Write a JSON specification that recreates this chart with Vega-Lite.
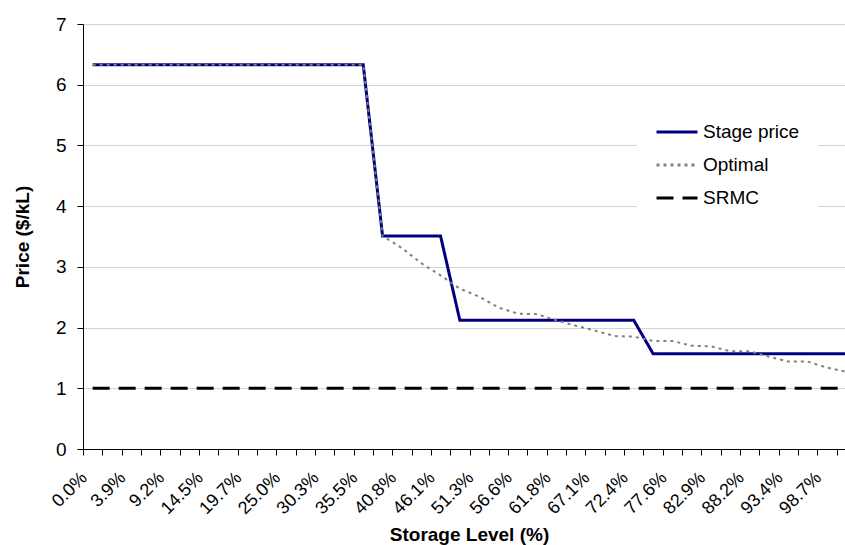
{
  "$schema": "https://vega.github.io/schema/vega-lite/v6.json",
  "width": 762,
  "height": 425,
  "autosize": {"type": "none"},
  "padding": {"left": 83, "top": 24, "right": 0, "bottom": 96},
  "background": "white",
  "config": {"font": "Liberation Sans", "view": {"stroke": null}},
  "data": {"values": [
    {"i": 0, "level": "0.0%", "Stage price": 6.33, "Optimal": 6.33, "SRMC": 1},
    {"i": 1, "level": "1.3%", "Stage price": 6.33, "Optimal": 6.33, "SRMC": 1},
    {"i": 2, "level": "3.9%", "Stage price": 6.33, "Optimal": 6.33, "SRMC": 1},
    {"i": 3, "level": "6.6%", "Stage price": 6.33, "Optimal": 6.33, "SRMC": 1},
    {"i": 4, "level": "9.2%", "Stage price": 6.33, "Optimal": 6.33, "SRMC": 1},
    {"i": 5, "level": "11.8%", "Stage price": 6.33, "Optimal": 6.33, "SRMC": 1},
    {"i": 6, "level": "14.5%", "Stage price": 6.33, "Optimal": 6.33, "SRMC": 1},
    {"i": 7, "level": "17.1%", "Stage price": 6.33, "Optimal": 6.33, "SRMC": 1},
    {"i": 8, "level": "19.7%", "Stage price": 6.33, "Optimal": 6.33, "SRMC": 1},
    {"i": 9, "level": "22.4%", "Stage price": 6.33, "Optimal": 6.33, "SRMC": 1},
    {"i": 10, "level": "25.0%", "Stage price": 6.33, "Optimal": 6.33, "SRMC": 1},
    {"i": 11, "level": "27.6%", "Stage price": 6.33, "Optimal": 6.33, "SRMC": 1},
    {"i": 12, "level": "30.3%", "Stage price": 6.33, "Optimal": 6.33, "SRMC": 1},
    {"i": 13, "level": "32.9%", "Stage price": 6.33, "Optimal": 6.33, "SRMC": 1},
    {"i": 14, "level": "35.5%", "Stage price": 6.33, "Optimal": 6.33, "SRMC": 1},
    {"i": 15, "level": "38.2%", "Stage price": 3.51, "Optimal": 3.51, "SRMC": 1},
    {"i": 16, "level": "40.8%", "Stage price": 3.51, "Optimal": 3.31, "SRMC": 1},
    {"i": 17, "level": "43.4%", "Stage price": 3.51, "Optimal": 3.06, "SRMC": 1},
    {"i": 18, "level": "46.1%", "Stage price": 3.51, "Optimal": 2.86, "SRMC": 1},
    {"i": 19, "level": "48.7%", "Stage price": 2.12, "Optimal": 2.64, "SRMC": 1},
    {"i": 20, "level": "51.3%", "Stage price": 2.12, "Optimal": 2.51, "SRMC": 1},
    {"i": 21, "level": "53.9%", "Stage price": 2.12, "Optimal": 2.33, "SRMC": 1},
    {"i": 22, "level": "56.6%", "Stage price": 2.12, "Optimal": 2.23, "SRMC": 1},
    {"i": 23, "level": "59.2%", "Stage price": 2.12, "Optimal": 2.22, "SRMC": 1},
    {"i": 24, "level": "61.8%", "Stage price": 2.12, "Optimal": 2.12, "SRMC": 1},
    {"i": 25, "level": "64.5%", "Stage price": 2.12, "Optimal": 2.03, "SRMC": 1},
    {"i": 26, "level": "67.1%", "Stage price": 2.12, "Optimal": 1.95, "SRMC": 1},
    {"i": 27, "level": "69.7%", "Stage price": 2.12, "Optimal": 1.86, "SRMC": 1},
    {"i": 28, "level": "72.4%", "Stage price": 2.12, "Optimal": 1.85, "SRMC": 1},
    {"i": 29, "level": "75.0%", "Stage price": 1.57, "Optimal": 1.78, "SRMC": 1},
    {"i": 30, "level": "77.6%", "Stage price": 1.57, "Optimal": 1.78, "SRMC": 1},
    {"i": 31, "level": "80.3%", "Stage price": 1.57, "Optimal": 1.70, "SRMC": 1},
    {"i": 32, "level": "82.9%", "Stage price": 1.57, "Optimal": 1.69, "SRMC": 1},
    {"i": 33, "level": "85.5%", "Stage price": 1.57, "Optimal": 1.61, "SRMC": 1},
    {"i": 34, "level": "88.2%", "Stage price": 1.57, "Optimal": 1.61, "SRMC": 1},
    {"i": 35, "level": "90.8%", "Stage price": 1.57, "Optimal": 1.52, "SRMC": 1},
    {"i": 36, "level": "93.4%", "Stage price": 1.57, "Optimal": 1.44, "SRMC": 1},
    {"i": 37, "level": "96.1%", "Stage price": 1.57, "Optimal": 1.44, "SRMC": 1},
    {"i": 38, "level": "98.7%", "Stage price": 1.57, "Optimal": 1.34, "SRMC": 1},
    {"i": 39, "level": "100.0%", "Stage price": 1.57, "Optimal": 1.27, "SRMC": 1}
  ]},
  "transform": [{"fold": ["Stage price", "Optimal", "SRMC"], "as": ["series", "price"]}],
  "encoding": {
    "x": {
      "field": "i",
      "type": "quantitative",
      "scale": {"domain": [-0.5, 38.93], "nice": false, "zero": false},
      "axis": {
        "title": "Storage Level (%)",
        "titleFontSize": 19,
        "titleFontWeight": "bold",
        "titleColor": "black",
        "titleX": 386,
        "titleY": 91,
        "titleBaseline": "alphabetic",
        "values": [-0.5, 0.5, 1.5, 2.5, 3.5, 4.5, 5.5, 6.5, 7.5, 8.5, 9.5, 10.5, 11.5, 12.5, 13.5, 14.5, 15.5, 16.5, 17.5, 18.5, 19.5, 20.5, 21.5, 22.5, 23.5, 24.5, 25.5, 26.5, 27.5, 28.5, 29.5, 30.5, 31.5, 32.5, 33.5, 34.5, 35.5, 36.5, 37.5, 38.5],
        "labelExpr": "(datum.value + 0.5) % 2 == 0 ? ['0.0%','3.9%','9.2%','14.5%','19.7%','25.0%','30.3%','35.5%','40.8%','46.1%','51.3%','56.6%','61.8%','67.1%','72.4%','77.6%','82.9%','88.2%','93.4%','98.7%'][(datum.value + 0.5) / 2] : ''",
        "grid": false,
        "labelAngle": -45,
        "labelAlign": "right",
        "labelBaseline": "middle",
        "labelOffset": 1,
        "labelPadding": 20,
        "labelOverlap": false,
        "labelFlush": false,
        "labelBound": false,
        "labelFontSize": 18,
        "labelColor": "black",
        "tickSize": 6,
        "tickColor": "black",
        "domainColor": "black"
      }
    },
    "y": {
      "field": "price",
      "type": "quantitative",
      "scale": {"domain": [0, 7], "nice": false},
      "axis": {
        "title": "Price ($/kL)",
        "titleFontSize": 19,
        "titleFontWeight": "bold",
        "titleColor": "black",
        "titleAngle": -90,
        "titleX": -60.5,
        "titleY": 212.5,
        "titleBaseline": "middle",
        "values": [0, 1, 2, 3, 4, 5, 6, 7],
        "labelFontSize": 19,
        "labelColor": "black",
        "labelPadding": 11,
        "tickSize": 6,
        "tickColor": "black",
        "domainColor": "black",
        "gridColor": "#d4d4d4"
      }
    },
    "color": {
      "field": "series",
      "type": "nominal",
      "scale": {"domain": ["Stage price", "Optimal", "SRMC"], "range": ["#000080", "#808080", "#000000"]},
      "legend": {
        "title": null,
        "orient": "none",
        "legendX": 554,
        "legendY": 73.5,
        "fillColor": "white",
        "padding": 18,
        "symbolType": "stroke",
        "symbolSize": 1681,
        "symbolStrokeWidth": 3,
        "labelFontSize": 19,
        "labelColor": "black",
        "labelOffset": 4,
        "clipHeight": 33,
        "rowPadding": 0
      }
    },
    "strokeDash": {
      "field": "series",
      "type": "nominal",
      "scale": {"domain": ["Stage price", "Optimal", "SRMC"], "range": [[1, 0], [3, 4], [17, 9]]},
      "legend": {
        "title": null,
        "orient": "none",
        "legendX": 554,
        "legendY": 73.5,
        "fillColor": "white",
        "padding": 18,
        "symbolType": "stroke",
        "symbolSize": 1681,
        "symbolStrokeWidth": 3,
        "labelFontSize": 19,
        "labelColor": "black",
        "labelOffset": 4,
        "clipHeight": 33,
        "rowPadding": 0
      }
    }
  },
  "layer": [
    {"transform": [{"filter": "datum.series === 'Stage price'"}], "mark": {"type": "line", "strokeWidth": 3, "clip": true}},
    {"transform": [{"filter": "datum.series === 'SRMC'"}], "mark": {"type": "line", "strokeWidth": 3, "clip": true}},
    {"transform": [{"filter": "datum.series === 'Optimal'"}], "mark": {"type": "line", "strokeWidth": 2, "clip": true}}
  ]
}
